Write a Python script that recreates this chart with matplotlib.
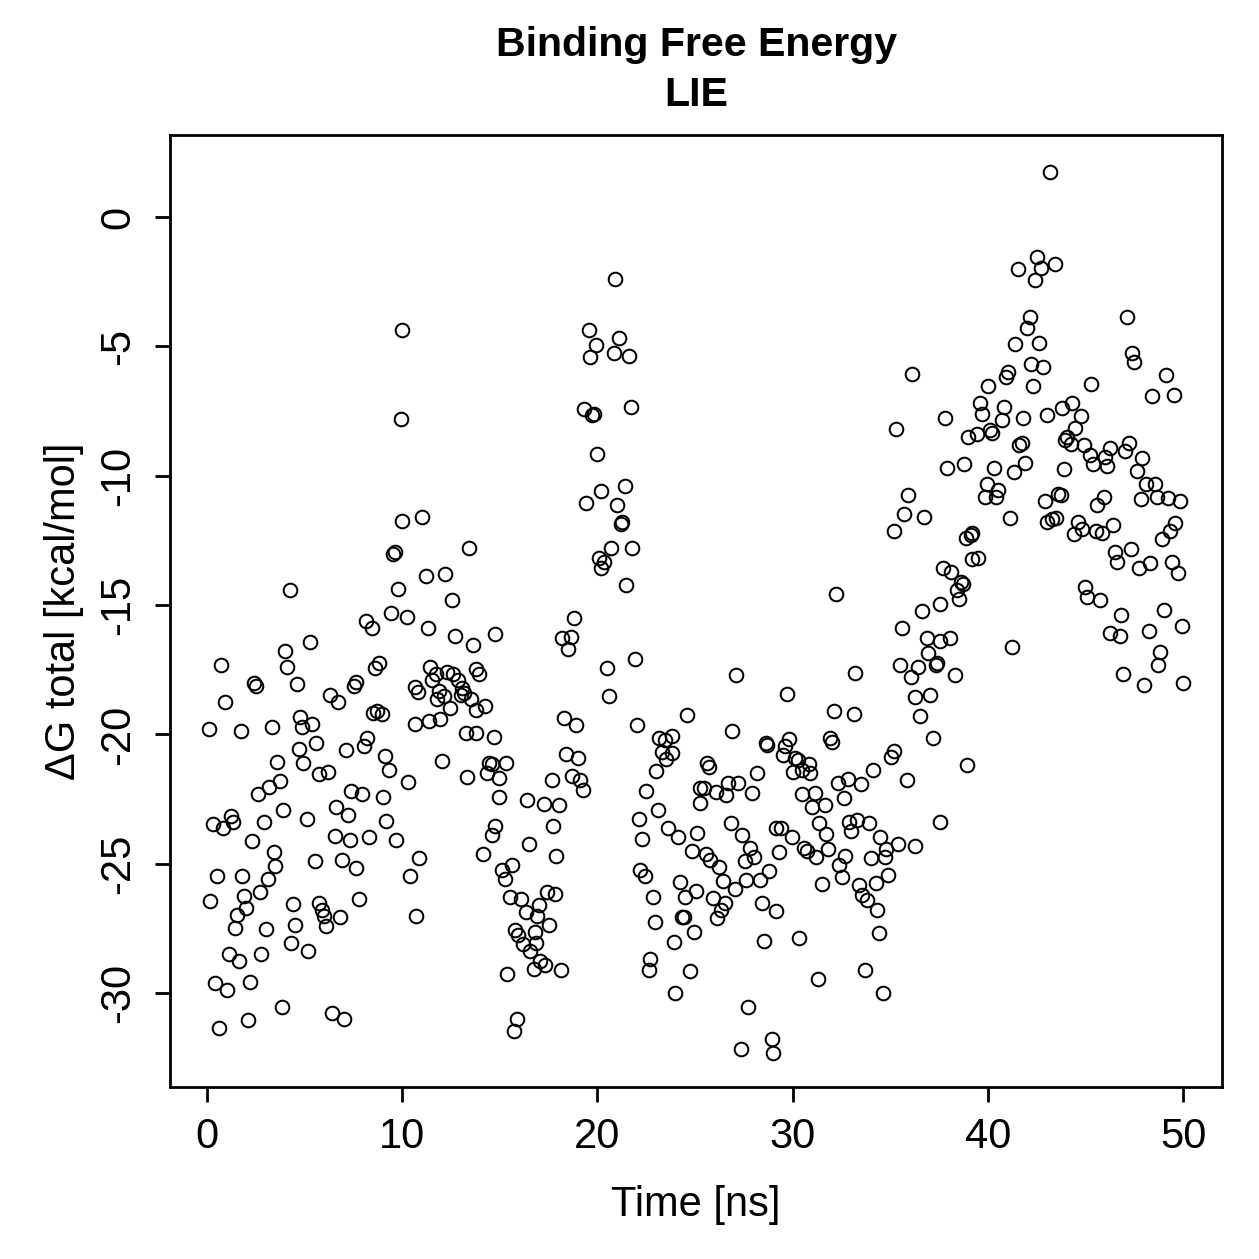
import matplotlib
matplotlib.use("Agg")
import matplotlib.pyplot as plt

# time [ns], dG total [kcal/mol], in blocks of ~5 ns
T_00 = [4.04, 0.72, 4.13, 2.42, 2.54, 4.64, 0.94, 0.12, 1.74, 3.33, 4.81, 4.90, 4.72, 3.62, 4.93,
        3.75, 3.22, 2.63, 3.93, 0.32, 0.83, 1.23, 1.35, 2.93, 2.34, 3.43, 3.53, 0.55, 1.83, 3.14,
        2.73, 0.20, 1.94, 2.03, 1.54, 4.42, 1.45, 3.02, 4.52, 4.33, 1.14, 1.65, 2.81, 0.46, 1.06,
        2.22, 3.84, 2.11, 0.63, 4.25]
G_00 = [-16.76, -17.32, -17.41, -18.00, -18.13, -18.06, -18.76, -19.80, -19.86, -19.70, -19.34, -19.70,
        -20.58, -21.08, -21.09, -21.79, -22.05, -22.32, -22.91, -23.46, -23.63, -23.15, -23.37, -23.40,
        -24.13, -24.56, -25.09, -25.46, -25.49, -25.60, -26.09, -26.43, -26.23, -26.70, -26.98, -26.54,
        -27.50, -27.51, -27.37, -28.05, -28.50, -28.75, -28.50, -29.62, -29.88, -29.58, -30.55, -31.04,
        -31.34, -14.42]

T_05 = [10.02, 9.93, 9.98, 9.55, 9.64, 9.81, 9.42, 8.14, 8.48, 5.32, 8.61, 8.85, 7.54, 7.66, 6.31,
        6.74, 8.51, 8.74, 8.96, 5.41, 5.61, 7.15, 8.05, 8.22, 9.12, 9.33, 5.75, 6.23, 7.42, 7.97,
        9.02, 6.64, 7.25, 5.15, 9.20, 6.57, 7.32, 8.31, 9.71, 5.54, 6.91, 7.66, 5.78, 5.89, 6.00,
        6.13, 6.81, 7.79, 5.20, 6.43, 7.03]
G_05 = [-4.37, -7.80, -11.75, -13.03, -12.94, -14.39, -15.30, -15.63, -15.90, -16.43, -17.42, -17.24,
        -18.11, -17.99, -18.48, -18.74, -19.18, -19.11, -19.20, -19.59, -20.33, -20.60, -20.44, -20.12,
        -20.83, -21.36, -21.53, -21.45, -22.19, -22.30, -22.42, -22.81, -23.10, -23.27, -23.36, -23.93,
        -24.10, -23.98, -24.07, -24.91, -24.87, -25.17, -26.50, -26.77, -27.03, -27.39, -27.07, -26.36,
        -28.36, -30.76, -31.02]

T_10 = [11.04, 13.42, 11.24, 12.23, 12.54, 10.27, 11.33, 12.74, 13.63, 14.74, 11.43, 11.72, 11.55,
        12.32, 12.61, 12.88, 13.09, 13.17, 13.00, 13.77, 13.94, 10.66, 10.83, 11.89, 11.81, 12.14,
        12.44, 13.56, 13.80, 14.24, 10.66, 11.40, 11.97, 13.30, 13.79, 14.71, 10.32, 12.03, 13.34,
        14.48, 14.62, 14.33, 10.90, 10.44, 14.14, 14.79, 14.62, 10.73]
G_10 = [-11.61, -12.80, -13.86, -13.80, -14.82, -15.46, -15.88, -16.20, -16.54, -16.13, -17.41, -17.68,
        -17.91, -17.58, -17.68, -17.91, -18.20, -18.39, -18.47, -17.49, -17.68, -18.17, -18.38, -18.32,
        -18.64, -18.52, -18.97, -18.64, -19.06, -18.91, -19.61, -19.49, -19.39, -19.93, -19.93, -20.10,
        -21.83, -21.01, -21.65, -21.09, -21.16, -21.49, -24.76, -25.46, -24.61, -23.53, -23.90, -27.01]

T_15 = [19.56, 19.91, 19.65, 19.31, 19.74, 19.82, 19.99, 19.40, 20.21, 20.08, 20.21, 20.33, 18.80,
        18.17, 18.63, 18.51, 20.51, 20.59, 18.29, 18.92, 18.41, 19.02, 15.34, 14.96, 14.96, 17.66,
        18.71, 19.14, 19.26, 16.41, 17.26, 18.03, 17.72, 16.53, 17.91, 15.13, 15.27, 15.61, 17.44,
        17.86, 15.51, 16.07, 16.36, 17.01, 16.92, 17.52, 15.81, 15.95, 16.19, 16.58, 16.80, 16.87,
        17.09, 17.31, 16.75, 18.12, 15.39, 15.90, 15.73]
G_15 = [-4.37, -4.96, -5.40, -7.44, -7.65, -7.61, -9.16, -11.04, -10.58, -13.17, -13.56, -13.35, -15.51,
        -16.27, -16.22, -16.71, -17.43, -18.53, -19.37, -19.62, -20.74, -20.92, -21.09, -21.69, -22.42,
        -21.77, -21.59, -21.77, -22.16, -22.55, -22.69, -22.73, -23.54, -24.25, -24.69, -25.26, -25.58,
        -25.05, -26.11, -26.15, -26.29, -26.36, -26.85, -26.59, -27.03, -27.35, -27.56, -27.74, -28.10,
        -28.36, -27.65, -28.06, -28.77, -28.90, -29.07, -29.12, -29.25, -30.99, -31.46]

T_20 = [20.93, 21.13, 20.84, 21.61, 21.70, 21.41, 21.02, 21.19, 21.27, 20.68, 21.77, 21.46, 21.92,
        22.04, 24.60, 23.15, 23.45, 23.80, 23.32, 23.83, 23.53, 23.01, 22.50, 23.12, 22.13, 23.63,
        24.14, 25.11, 22.30, 24.86, 22.21, 22.43, 24.21, 25.03, 24.51, 22.84, 22.94, 24.31, 24.43,
        24.94, 23.92, 22.72, 22.64, 24.72, 24.00]
G_20 = [-2.39, -4.67, -5.27, -5.37, -7.35, -10.38, -11.14, -11.87, -11.78, -12.78, -12.78, -14.21, -17.07,
        -19.64, -19.26, -20.15, -20.22, -20.06, -20.67, -20.73, -20.96, -21.40, -22.18, -22.92, -23.26,
        -23.63, -23.95, -23.80, -24.06, -24.50, -25.24, -25.47, -25.69, -26.04, -26.27, -26.27, -27.24,
        -27.07, -27.07, -27.63, -28.01, -28.69, -29.11, -29.13, -30.01]

T_25 = [27.11, 29.72, 26.90, 28.61, 28.69, 29.80, 29.60, 29.49, 30.14, 30.28, 30.00, 30.49, 25.62,
        25.74, 28.18, 25.28, 25.45, 25.28, 26.05, 26.70, 26.60, 27.21, 27.93, 30.49, 26.82, 27.41,
        29.12, 29.38, 29.94, 29.29, 25.54, 25.79, 26.22, 27.84, 27.55, 28.01, 28.81, 26.42, 27.04,
        27.62, 28.31, 25.91, 26.53, 26.31, 26.14, 28.44, 29.12, 28.52, 30.31, 27.72, 27.33, 28.92,
        29.00]
G_25 = [-17.70, -18.45, -19.87, -20.34, -20.41, -20.18, -20.45, -20.80, -20.92, -20.99, -21.44, -21.38,
        -21.12, -21.27, -21.50, -22.08, -22.08, -22.64, -22.21, -21.87, -22.34, -21.89, -22.25, -22.30,
        -23.44, -23.89, -23.63, -23.63, -23.95, -24.53, -24.64, -24.86, -25.11, -24.40, -24.89, -24.73,
        -25.27, -25.66, -25.96, -25.63, -25.63, -26.34, -26.53, -26.79, -27.11, -26.53, -26.81, -27.99,
        -27.86, -30.53, -32.17, -31.79, -32.30]

T_30 = [32.22, 33.21, 32.10, 33.12, 31.93, 32.02, 30.82, 30.91, 34.10, 35.01, 35.18, 32.33, 32.84,
        33.52, 32.62, 31.13, 31.00, 31.64, 31.37, 31.68, 32.87, 33.30, 32.96, 33.93, 34.49, 35.40,
        30.57, 30.74, 31.20, 31.82, 32.70, 32.36, 34.03, 34.71, 34.75, 34.89, 34.24, 31.51, 32.50,
        33.38, 33.56, 33.81, 34.32, 34.41, 31.30, 33.69, 34.61]
G_30 = [-14.57, -17.64, -19.08, -19.21, -20.15, -20.28, -21.14, -21.50, -21.38, -20.86, -20.63, -21.87,
        -21.74, -21.93, -22.47, -22.28, -22.79, -22.73, -23.44, -23.85, -23.37, -23.31, -23.72, -23.41,
        -23.95, -24.24, -24.40, -24.50, -24.73, -24.44, -24.70, -25.05, -24.77, -24.75, -24.44, -25.43,
        -25.73, -25.78, -25.52, -25.82, -26.21, -26.40, -26.79, -27.66, -29.47, -29.11, -29.98]

T_35 = [36.11, 39.98, 39.57, 39.70, 37.82, 35.31, 38.96, 39.41, 40.09, 40.21, 37.91, 38.79, 40.29,
        39.92, 39.82, 40.43, 40.50, 35.89, 35.69, 36.71, 35.17, 38.89, 39.10, 39.19, 39.20, 39.46,
        37.70, 38.11, 38.59, 38.73, 38.42, 38.50, 37.53, 36.63, 35.60, 36.85, 37.56, 38.04, 36.91,
        37.31, 37.40, 35.48, 36.03, 36.40, 38.30, 36.28, 37.02, 36.51, 37.17, 38.93, 35.85, 37.55,
        36.25]
G_35 = [-6.08, -6.55, -7.19, -7.61, -7.77, -8.21, -8.49, -8.40, -8.24, -8.34, -9.71, -9.55, -9.71,
        -10.34, -10.81, -10.81, -10.55, -10.73, -11.49, -11.60, -12.12, -12.39, -12.28, -12.23, -13.23,
        -13.18, -13.58, -13.73, -14.12, -14.17, -14.41, -14.76, -14.95, -15.23, -15.90, -16.26, -16.38,
        -16.29, -16.86, -17.33, -17.24, -17.33, -17.80, -17.39, -17.71, -18.54, -18.47, -19.28, -20.12,
        -21.18, -21.78, -23.39, -24.30]

T_40 = [43.19, 42.51, 41.52, 42.73, 43.40, 42.39, 42.12, 42.00, 41.40, 42.59, 42.22, 42.82, 42.31,
        41.03, 40.93, 45.29, 40.80, 40.69, 41.80, 42.99, 43.79, 44.30, 44.73, 44.47, 44.05, 43.96,
        44.22, 44.90, 45.19, 45.36, 41.57, 41.71, 41.31, 41.91, 43.91, 42.90, 43.59, 43.71, 41.10,
        43.02, 43.28, 43.50, 44.61, 44.39, 44.82, 44.98, 45.07, 41.20]
G_40 = [1.75, -1.53, -2.02, -1.98, -1.82, -2.44, -3.88, -4.30, -4.92, -4.88, -5.69, -5.81, -6.53, -5.98,
        -6.20, -6.46, -7.36, -7.85, -7.76, -7.65, -7.37, -7.20, -7.69, -8.17, -8.52, -8.62, -8.77, -8.81,
        -9.20, -9.55, -8.81, -8.72, -9.84, -9.50, -9.75, -10.97, -10.72, -10.75, -11.65, -11.78, -11.69,
        -11.65, -11.78, -12.25, -12.07, -14.31, -14.68, -16.63]

T_45 = [47.12, 47.37, 47.49, 49.13, 48.40, 49.50, 46.23, 45.96, 46.10, 47.03, 47.20, 47.89, 47.60,
        48.06, 48.52, 47.80, 48.62, 49.20, 49.81, 45.92, 45.58, 45.50, 45.84, 46.40, 49.59, 49.30,
        48.91, 46.52, 46.61, 47.29, 47.71, 48.31, 49.42, 49.71, 45.72, 46.81, 48.99, 49.93, 48.22,
        46.26, 46.74, 48.79, 48.69, 46.91, 48.00, 49.98]
G_45 = [-3.88, -5.25, -5.62, -6.11, -6.92, -6.88, -8.94, -9.29, -9.61, -9.03, -8.75, -9.33, -9.81,
        -10.32, -10.32, -10.91, -10.83, -10.87, -10.98, -10.81, -11.13, -12.12, -12.22, -11.90, -11.82,
        -12.12, -12.45, -12.94, -13.32, -12.85, -13.58, -13.36, -13.32, -13.75, -14.80, -15.38, -15.19,
        -15.80, -16.00, -16.09, -16.20, -16.80, -17.32, -17.67, -18.09, -18.02]

time_ns = T_00 + T_05 + T_10 + T_15 + T_20 + T_25 + T_30 + T_35 + T_40 + T_45
dg_total = G_00 + G_05 + G_10 + G_15 + G_20 + G_25 + G_30 + G_35 + G_40 + G_45

plt.rcParams.update({"font.family": ["Liberation Sans", "DejaVu Sans"],
                     "axes.unicode_minus": False,
                     "axes.linewidth": 1.0})

fig = plt.figure(figsize=(6.295, 6.295), dpi=200)
ax = fig.add_axes([0.135, 0.1366, 0.8356, 0.7562])

ax.plot(time_ns, dg_total, ls="none", marker="o", ms=4.9, mfc="none",
        mec="black", mew=0.72)

ax.set_xlim(-1.87, 51.97)
ax.set_ylim(-33.63, 3.17)
ax.set_xticks([0, 10, 20, 30, 40, 50])
ax.set_yticks([-30, -25, -20, -15, -10, -5, 0])
ax.tick_params(direction="out", length=5.4, width=1.0, labelsize=15)
ax.tick_params(axis="x", pad=5.5)
ax.tick_params(axis="y", pad=6)
plt.setp(ax.get_yticklabels(), rotation=90, va="center")

ax.set_xlabel("Time [ns]", fontsize=15, labelpad=10)
ax.set_ylabel("ΔG total [kcal/mol]", fontsize=15, labelpad=5)

fig.text(0.553, 0.9643, "Binding Free Energy", ha="center", va="center",
         fontsize=14.8, fontweight="bold")
fig.text(0.553, 0.9245, "LIE", ha="center", va="center",
         fontsize=14.8, fontweight="bold")

fig.savefig("out.png", dpi=200)
